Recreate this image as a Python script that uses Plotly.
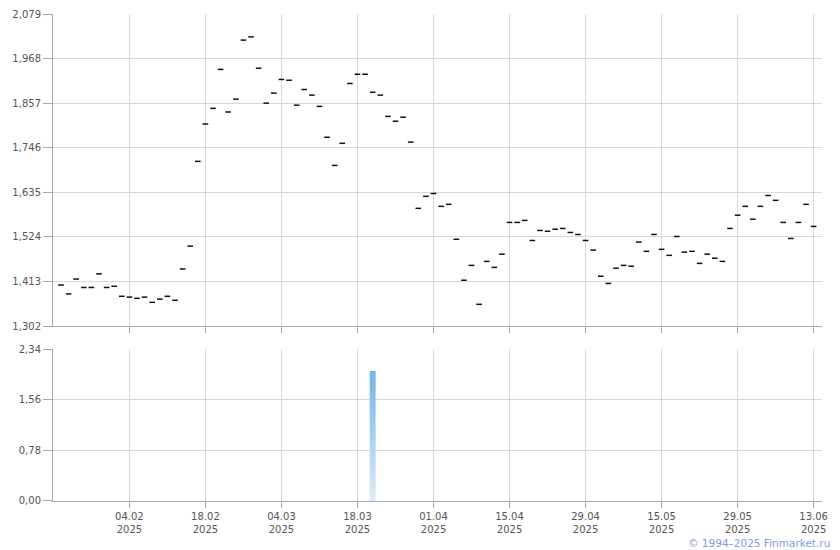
import plotly.graph_objects as go

# ---- data ----
idx = list(range(100))  # trading-day index
price = [1.404, 1.382, 1.419, 1.398, 1.398, 1.432, 1.398, 1.401, 1.376, 1.374,
         1.371, 1.374, 1.361, 1.369, 1.376, 1.366, 1.444, 1.501, 1.712, 1.805,
         1.844, 1.941, 1.835, 1.867, 2.014, 2.022, 1.944, 1.857, 1.882, 1.916,
         1.914, 1.852, 1.891, 1.877, 1.849, 1.772, 1.702, 1.757, 1.906, 1.929,
         1.929, 1.884, 1.877, 1.824, 1.812, 1.822, 1.760, 1.595, 1.625, 1.632,
         1.600, 1.605, 1.518, 1.416, 1.453, 1.356, 1.463, 1.448, 1.481, 1.560,
         1.560, 1.565, 1.515, 1.540, 1.538, 1.543, 1.545, 1.535, 1.530, 1.515,
         1.491, 1.426, 1.408, 1.446, 1.453, 1.451, 1.511, 1.488, 1.530, 1.493,
         1.478, 1.525, 1.486, 1.488, 1.458, 1.481, 1.471, 1.463, 1.545, 1.578,
         1.600, 1.568, 1.600, 1.627, 1.615, 1.560, 1.520, 1.560, 1.605, 1.550]
volume = [0.0] * 100
volume[41] = 2.0

xtick_pos = [9, 19, 29, 39, 49, 59, 69, 79, 89, 99]
xtick_labels = ["04.02", "18.02", "04.03", "18.03", "01.04",
                "15.04", "29.04", "15.05", "29.05", "13.06"]
xtick_year = "2025"
price_ticks = [1.302, 1.413, 1.524, 1.635, 1.746, 1.857, 1.968, 2.079]
volume_ticks = [0.0, 0.78, 1.56, 2.34]

# ---- style ----
FONT = "DejaVu Sans"
GRID = "#d5d8dc"
AXIS = "#a6a9b2"
TXT = "#555555"
BAR_HALF = 0.39

fig = go.Figure()

fig.add_trace(go.Scatter(
    x=idx, y=price, mode="markers", xaxis="x", yaxis="y",
    marker=dict(symbol="line-ew", size=4, color="#111111",
                line=dict(width=1.5, color="#111111")),
    hoverinfo="skip", showlegend=False))

for i, v in zip(idx, volume):
    if v > 0:
        fig.add_trace(go.Scatter(
            x=[i - BAR_HALF, i - BAR_HALF, i + BAR_HALF, i + BAR_HALF, i - BAR_HALF],
            y=[0, v, v, 0, 0], mode="lines", fill="toself",
            line=dict(width=0, color="rgba(0,0,0,0)"),
            fillgradient=dict(type="vertical",
                              colorscale=[[0, "#deebf8"], [1, "#72b5ea"]]),
            xaxis="x2", yaxis="y2", hoverinfo="skip", showlegend=False))

xcommon = dict(range=[-1.05, 100.1], tickvals=xtick_pos, automargin=False,
               showgrid=True, gridcolor=GRID, gridwidth=1,
               showline=True, linecolor=AXIS, linewidth=1,
               ticks="outside", ticklen=6, tickcolor=AXIS, zeroline=False,
               tickfont=dict(family=FONT, size=10, color=TXT))
ycommon = dict(automargin=False, showgrid=True, gridcolor=GRID,
               showline=True, linecolor=AXIS, linewidth=1,
               ticks="outside", ticklen=9, tickcolor=AXIS, zeroline=False,
               tickfont=dict(family=FONT, size=10, color=TXT))

fig.update_layout(
    width=840, height=550, autosize=False,
    margin=dict(l=53, r=18, t=14, b=49, pad=0),
    paper_bgcolor="white", plot_bgcolor="white",
    separators=", ",
    font=dict(family=FONT, size=10, color=TXT),
    xaxis=dict(**xcommon, domain=[0, 1], anchor="y", showticklabels=False,
               ticktext=xtick_labels),
    xaxis2=dict(**xcommon, domain=[0, 1], anchor="y2", matches="x",
                ticktext=[f"{t}<br>{xtick_year}" for t in xtick_labels]),
    yaxis=dict(**ycommon, domain=[0.3593, 1.0], anchor="x",
               range=[1.302, 2.079], tickvals=price_ticks, tickformat=".3f"),
    yaxis2=dict(**ycommon, domain=[0.0, 0.3121], anchor="x2",
                range=[0, 2.34], tickvals=volume_ticks, tickformat=".2f"),
    annotations=[dict(text="© 1994–2025 Finmarket.ru", xref="paper", yref="paper",
                      x=1.013, y=-0.0862, xanchor="right", yanchor="middle",
                      showarrow=False,
                      font=dict(family=FONT, size=10.5, color="#7f9de6"))],
)

fig.write_html("out.html", config={"displayModeBar": False},
               post_script="document.body.style.margin='0';document.body.style.padding='0';")
